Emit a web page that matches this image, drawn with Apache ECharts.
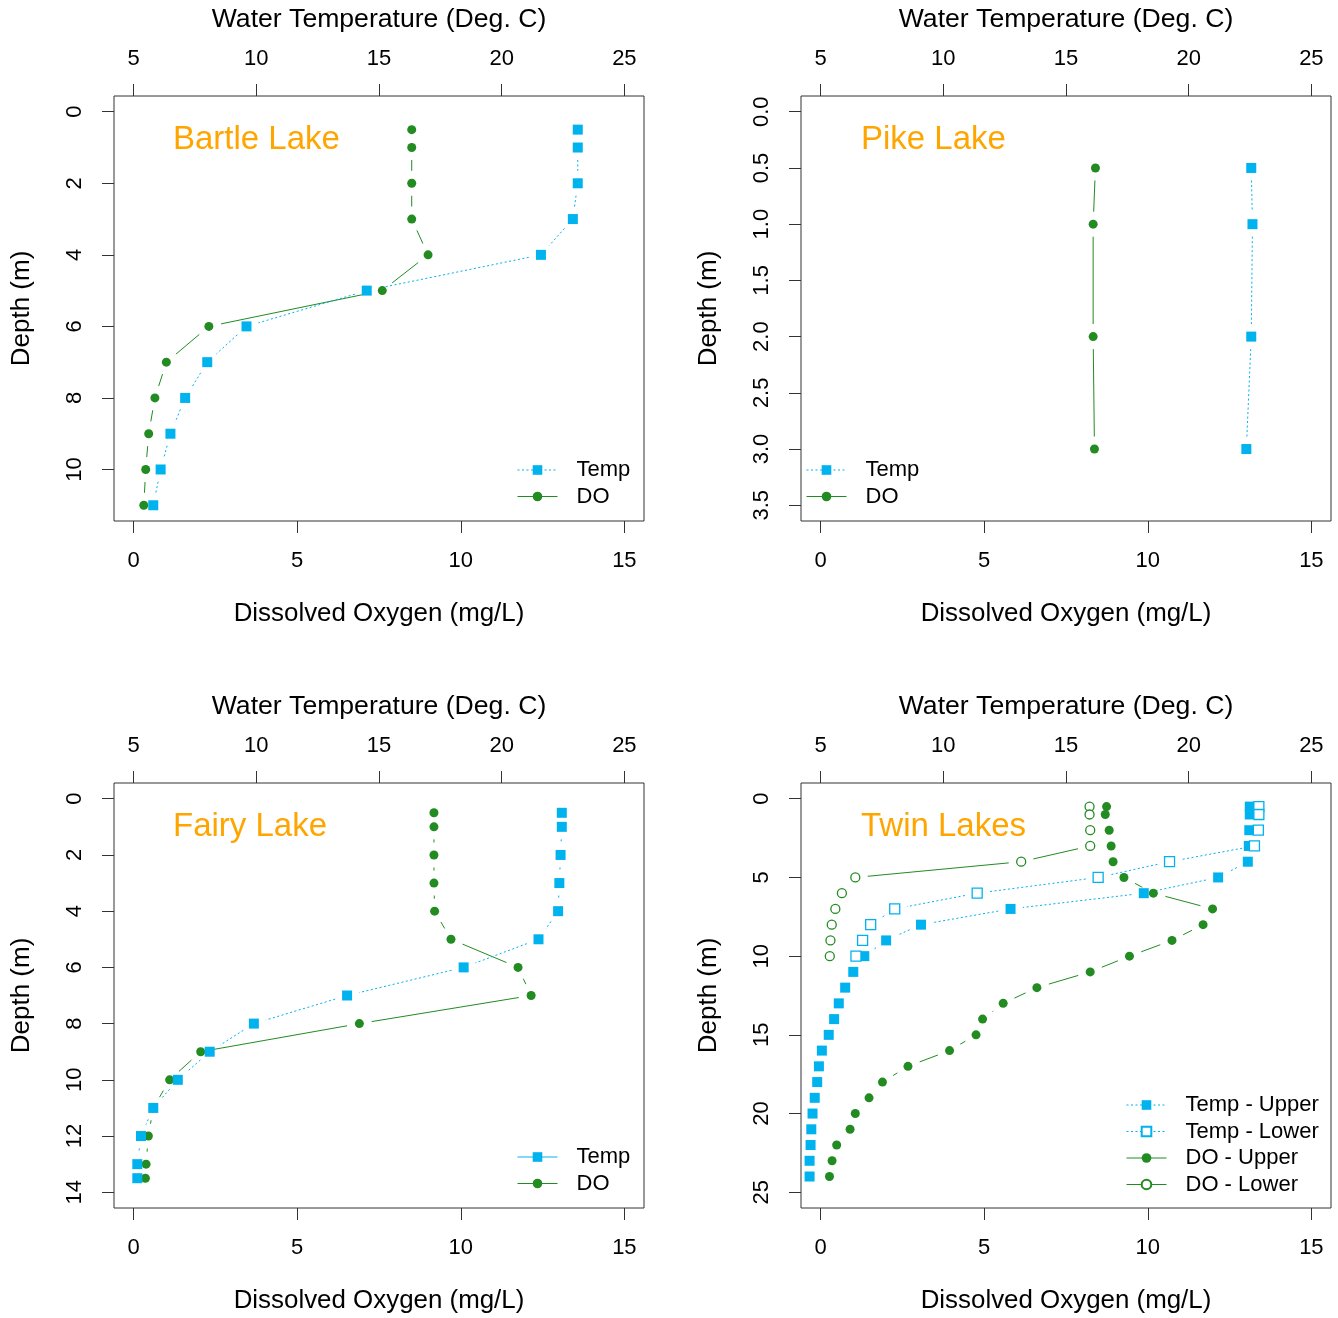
<!DOCTYPE html>
<html>
<head>
<meta charset="utf-8">
<script src="https://cdn.jsdelivr.net/npm/echarts@6/dist/echarts.min.js"></script>
<style>
html, body { margin: 0; background: #fff; }
#chart { width: 1338px; height: 1318px; }
</style>
</head>
<body>
<div id="chart"></div>
<script>
// ---- data ----
// Bartle Lake
const bartleDepth = [0.5, 1, 2, 3, 4, 5, 6, 7, 8, 9, 10, 11];
const bartleTemp = [23.1, 23.1, 23.1, 22.9, 21.6, 14.5, 9.6, 8.0, 7.1, 6.5, 6.1, 5.8];
const bartleDO = [8.5, 8.5, 8.5, 8.5, 9.0, 7.6, 2.3, 1.0, 0.65, 0.46, 0.37, 0.31];

// Pike Lake
const pikeDepth = [0.5, 1, 2, 3];
const pikeTemp = [22.55, 22.6, 22.55, 22.35];
const pikeDO = [8.4, 8.33, 8.33, 8.37];

// Fairy Lake
const fairyDepth = [0.5, 1, 2, 3, 4, 5, 6, 7, 8, 9, 10, 11, 12, 13, 13.5];
const fairyTemp = [22.45, 22.45, 22.4, 22.35, 22.3, 21.5, 18.45, 13.7, 9.9, 8.1, 6.8, 5.8, 5.3, 5.15, 5.15];
const fairyDO = [9.18, 9.18, 9.18, 9.18, 9.2, 9.7, 11.75, 12.15, 6.9, 2.05, 1.1, 0.6, 0.45, 0.38, 0.36];

// Twin Lakes (upper / lower basin)
const twinUpperDepth = [0.5, 1, 2, 3, 4, 5, 6, 7, 8, 9, 10, 11, 12, 13, 14, 15, 16, 17, 18, 19, 20, 21, 22, 23, 24];
const twinUpperTemp = [22.49, 22.49, 22.47, 22.45, 22.41, 21.2, 18.17, 12.74, 9.09, 7.67, 6.78, 6.33, 6.0, 5.74, 5.55, 5.33, 5.05, 4.93, 4.86, 4.76, 4.67, 4.62, 4.59, 4.55, 4.55];
const twinUpperDO = [8.74, 8.7, 8.82, 8.88, 8.94, 9.27, 10.17, 11.98, 11.69, 10.74, 9.44, 8.24, 6.61, 5.58, 4.95, 4.75, 3.94, 2.67, 1.89, 1.48, 1.06, 0.9, 0.49, 0.35, 0.27];
const twinLowerDepth = [0.5, 1, 2, 3, 4, 5, 6, 7, 8, 9, 10];
const twinLowerTemp = [22.86, 22.86, 22.84, 22.68, 19.22, 16.31, 11.38, 8.02, 7.04, 6.71, 6.44];
const twinLowerDO = [8.22, 8.22, 8.24, 8.24, 6.13, 1.06, 0.65, 0.45, 0.34, 0.3, 0.28];

// tick labels
const doTicks = [0, 5, 10, 15];
const tempTicks = [5, 10, 15, 20, 25];
const bartleDepthTicks = [0, 2, 4, 6, 8, 10];
const pikeDepthTicks = [0, 0.5, 1, 1.5, 2, 2.5, 3, 3.5];
const fairyDepthTicks = [0, 2, 4, 6, 8, 10, 12, 14];
const twinDepthTicks = [0, 5, 10, 15, 20, 25];

// ---- styling ----
const BLUE = '#00B2EE';
const GREEN = '#228B22';
const ORANGE = '#FFA500';
const FRAME = '#333';
const FONT = '"Liberation Sans", Arial, sans-serif';
const DOT = [2, 2.5];
const GAP = 12.5;   // R type="b": lines stop short of the points
const W = 530, H = 425;

const panels = [
    {
        title: 'Bartle Lake', left: 114, top: 96, depthMax: 11, depthTicks: bartleDepthTicks,
        fmt: v => String(v), titlePos: [173, 123], legendPos: [517, 459],
        lines: [
            { name: 'DO', x: bartleDO, y: bartleDepth, axis: 'do', color: GREEN, dash: null, symbol: 'circle' },
            { name: 'Temp', x: bartleTemp, y: bartleDepth, axis: 'temp', color: BLUE, dash: DOT, symbol: 'rect' }
        ],
        legendOrder: ['Temp', 'DO']
    },
    {
        title: 'Pike Lake', left: 801, top: 96, depthMax: 3.5, depthTicks: pikeDepthTicks,
        fmt: v => v.toFixed(1), titlePos: [861, 123], legendPos: [806, 459],
        lines: [
            { name: 'DO', x: pikeDO, y: pikeDepth, axis: 'do', color: GREEN, dash: null, symbol: 'circle' },
            { name: 'Temp', x: pikeTemp, y: pikeDepth, axis: 'temp', color: BLUE, dash: DOT, symbol: 'rect' }
        ],
        legendOrder: ['Temp', 'DO']
    },
    {
        title: 'Fairy Lake', left: 114, top: 783, depthMax: 14, depthTicks: fairyDepthTicks,
        fmt: v => String(v), titlePos: [173, 810], legendPos: [517, 1146], legendSolid: true,
        lines: [
            { name: 'DO', x: fairyDO, y: fairyDepth, axis: 'do', color: GREEN, dash: null, symbol: 'circle' },
            { name: 'Temp', x: fairyTemp, y: fairyDepth, axis: 'temp', color: BLUE, dash: DOT, symbol: 'rect' }
        ],
        legendOrder: ['Temp', 'DO']
    },
    {
        title: 'Twin Lakes', left: 801, top: 783, depthMax: 25, depthTicks: twinDepthTicks,
        fmt: v => String(v), titlePos: [861, 810], legendPos: [1126, 1094],
        lines: [
            { name: 'DO - Upper', x: twinUpperDO, y: twinUpperDepth, axis: 'do', color: GREEN, dash: null, symbol: 'circle' },
            { name: 'DO - Lower', x: twinLowerDO, y: twinLowerDepth, axis: 'do', color: GREEN, dash: null, symbol: 'circle', open: true },
            { name: 'Temp - Upper', x: twinUpperTemp, y: twinUpperDepth, axis: 'temp', color: BLUE, dash: DOT, symbol: 'rect' },
            { name: 'Temp - Lower', x: twinLowerTemp, y: twinLowerDepth, axis: 'temp', color: BLUE, dash: DOT, symbol: 'rect', open: true }
        ],
        legendOrder: ['Temp - Upper', 'Temp - Lower', 'DO - Upper', 'DO - Lower']
    }
];

function tickAxisBits(values, margin, extraLabel) {
    return {
        axisLine: { show: false, onZero: false },
        axisTick: { show: true, inside: false, length: 12, lineStyle: { color: FRAME, width: 1 }, customValues: values },
        axisLabel: Object.assign({ customValues: values, fontSize: 22, margin: margin, color: '#000', fontFamily: FONT }, extraLabel || {}),
        splitLine: { show: false }
    };
}

// segments between consecutive points, trimmed near each point
function gapLine(s, xi, yi) {
    return {
        type: 'custom',
        name: s.name + ' line',
        xAxisIndex: xi,
        yAxisIndex: yi,
        silent: true,
        z: 2,
        data: s.x.map((v, i) => [v, s.y[i]]),
        encode: { x: 0, y: 1 },
        renderItem: function (params, api) {
            const i = params.dataIndex;
            if (i === 0) return null;
            const a = api.coord([s.x[i - 1], s.y[i - 1]]);
            const b = api.coord([api.value(0), api.value(1)]);
            const dx = b[0] - a[0], dy = b[1] - a[1];
            const len = Math.sqrt(dx * dx + dy * dy);
            if (len <= 2 * GAP) return null;
            const ux = dx / len, uy = dy / len;
            return {
                type: 'line',
                shape: { x1: a[0] + ux * GAP, y1: a[1] + uy * GAP, x2: b[0] - ux * GAP, y2: b[1] - uy * GAP },
                style: { stroke: s.color, lineWidth: 1, lineDash: s.dash || null, fill: null }
            };
        }
    };
}

function pointSeries(s, xi, yi) {
    return {
        type: 'line',
        name: s.name,
        xAxisIndex: xi,
        yAxisIndex: yi,
        data: s.x.map((v, i) => [v, s.y[i]]),
        symbol: s.symbol,
        symbolSize: s.symbol === 'rect' ? 10 : 9,
        showAllSymbol: true,
        clip: false,
        silent: true,
        color: s.color,
        lineStyle: { width: 0, opacity: 0 },
        itemStyle: s.open ? { color: '#fff', borderColor: s.color, borderWidth: 1.3 } : { color: s.color },
        emphasis: { disabled: true },
        z: s.axis === 'temp' ? 4 : 3
    };
}

const grids = [], xAxes = [], yAxes = [], series = [], legends = [], titles = [];

panels.forEach((p, g) => {
    grids.push({ left: p.left, top: p.top, width: W, height: H, show: true, borderColor: FRAME, borderWidth: 1, backgroundColor: 'transparent' });

    xAxes.push(Object.assign({
        type: 'value', gridIndex: g, position: 'bottom', min: -0.6, max: 15.6,
        name: 'Dissolved Oxygen (mg/L)', nameLocation: 'middle', nameGap: 80,
        nameTextStyle: { fontSize: 25.9, color: '#000', fontFamily: FONT }
    }, tickAxisBits(doTicks, 29)));

    xAxes.push(Object.assign({
        type: 'value', gridIndex: g, position: 'top', min: 4.2, max: 25.8,
        name: 'Water Temperature (Deg. C)', nameLocation: 'middle', nameGap: 62.5,
        nameTextStyle: { fontSize: 26.6, color: '#000', fontFamily: FONT }
    }, tickAxisBits(tempTicks, 26)));

    yAxes.push(Object.assign({
        type: 'value', gridIndex: g, inverse: true,
        min: -0.04 * p.depthMax, max: 1.04 * p.depthMax,
        name: 'Depth (m)', nameLocation: 'middle', nameGap: 79,
        nameTextStyle: { fontSize: 26, color: '#000', fontFamily: FONT }
    }, tickAxisBits(p.depthTicks, 28, { rotate: 90, formatter: p.fmt })));

    p.lines.forEach(s => {
        const xi = s.axis === 'do' ? 2 * g : 2 * g + 1;
        series.push(gapLine(s, xi, g));
        series.push(pointSeries(s, xi, g));
    });

    titles.push({
        text: p.title, left: p.titlePos[0], top: p.titlePos[1], padding: 0,
        textStyle: { color: ORANGE, fontSize: 33, fontWeight: 'normal', fontFamily: FONT }
    });

    legends.push({
        orient: 'vertical',
        left: p.legendPos[0],
        top: p.legendPos[1],
        padding: 0,
        itemWidth: 40,
        itemHeight: 12,
        itemGap: 4.5,
        selectedMode: false,
        textStyle: { fontSize: 22, color: '#000', fontFamily: FONT, padding: [0, 0, 0, 14] },
        data: p.legendOrder.map(name => {
            const s = p.lines.find(l => l.name === name);
            const solid = p.legendSolid || !s.dash;
            return {
                name: name,
                lineStyle: { color: s.color, width: 1, type: solid ? 'solid' : DOT, opacity: 1 }
            };
        })
    });
});

const chart = echarts.init(document.getElementById('chart'));
chart.setOption({
    animation: false,
    backgroundColor: '#fff',
    title: titles,
    legend: legends,
    grid: grids,
    xAxis: xAxes,
    yAxis: yAxes,
    series: series
});
</script>
</body>
</html>
